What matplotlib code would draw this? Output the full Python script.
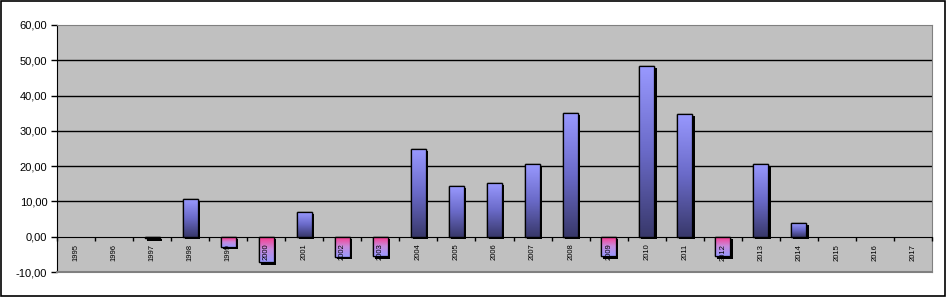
import numpy as np
import matplotlib.pyplot as plt
import matplotlib.patheffects as pe
from matplotlib.colors import LinearSegmentedColormap
from matplotlib.patches import Rectangle
from matplotlib.ticker import FuncFormatter

plt.rcParams['font.family'] = ['Liberation Sans', 'DejaVu Sans']

years = ['1995', '1996', '1997', '1998', '1999', '2000', '2001', '2002', '2003', '2004',
         '2005', '2006', '2007', '2008', '2009', '2010', '2011', '2012', '2013', '2014',
         '2015', '2016', '2017']
values = [0, 0, -0.5, 10.7, -2.8, -7.3, 7.0, -5.8, -5.6, 24.9,
          14.4, 15.2, 20.6, 35.1, -5.6, 48.4, 34.9, -5.6, 20.6, 3.9,
          0, 0, 0]

pos_cmap = LinearSegmentedColormap.from_list('pos', ['#38386a', '#6a6ac8', '#9999ff'])
neg_cmap = LinearSegmentedColormap.from_list('neg', ['#9999ff', '#c78bdc', '#ff3388'])
grad = np.linspace(0, 1, 256).reshape(-1, 1)

fig = plt.figure(figsize=(9.47, 2.97), dpi=100)
ax = fig.add_axes([57 / 947, 1 - 272 / 297, 875 / 947, 247 / 297])
ax.set_facecolor('#c0c0c0')

x = np.arange(len(years))
vals = np.array(values)
nz = vals != 0
w = 0.4

# shadow + black base
ax.bar(x[nz], vals[nz], width=w, color='black', edgecolor='black', zorder=2,
       path_effects=[pe.SimplePatchShadow(offset=(1.6, -1.6), shadow_rgbFace='black', alpha=1),
                     pe.Normal()])
# outline bars used as clip for the gradients
outline = ax.bar(x[nz], vals[nz], width=w, facecolor='none', edgecolor='black',
                 linewidth=0.9, zorder=2.2)
for xi, v, b in zip(x[nz], vals[nz], outline):
    cmap = pos_cmap if v > 0 else neg_cmap
    im = ax.imshow(grad, cmap=cmap, origin='lower', aspect='auto', zorder=2.1,
                   extent=[xi - w / 2, xi + w / 2, min(0, v), max(0, v)])
    im.set_clip_path(b)

ax.set_xlim(-0.5, len(years) - 0.5)
ax.set_ylim(-10, 60)

# gridlines
for g in range(10, 60, 10):
    ax.axhline(g, color='black', lw=1, zorder=0.5)

ax.set_yticks(range(-10, 61, 10))
ax.yaxis.set_major_formatter(FuncFormatter(lambda v, p: f'{v:.2f}'.replace('.', ',')))
ax.tick_params(axis='y', direction='out', length=4, width=1, labelsize=8, pad=3)

ax.spines['bottom'].set_position(('data', 0))
ax.spines['bottom'].set_color('black')
ax.spines['left'].set_color('black')
ax.spines['top'].set_color('#808080')
ax.spines['right'].set_color('#808080')
ax.axhline(-10, color='#808080', lw=1.5, clip_on=False, zorder=3)

ax.set_xticks(np.arange(-0.5, len(years), 1))
ax.set_xticklabels([])
ax.set_xticks(x, years, minor=True)
ax.tick_params(axis='x', which='major', direction='out', length=3, width=1)
ax.tick_params(axis='x', which='minor', length=0, labelsize=5.5, labelrotation=90, pad=5)
ax.xaxis.set_zorder(5)

fig.patches.append(Rectangle((0.001, 0.003), 0.997, 0.994, transform=fig.transFigure,
                             fill=False, edgecolor='black', lw=1.2))

fig.savefig('out.png', dpi=100)
